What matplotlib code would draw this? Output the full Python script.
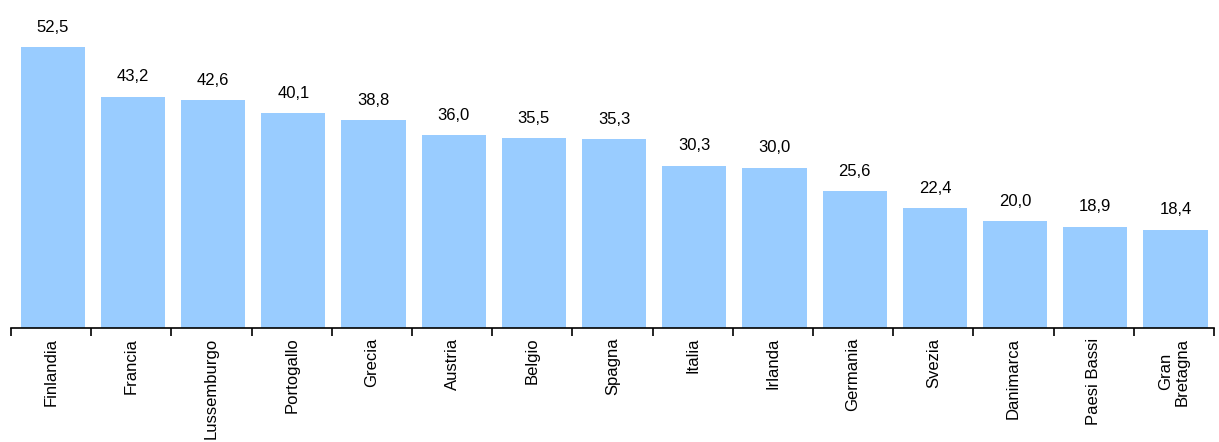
import numpy as np
import matplotlib
matplotlib.use("Agg")
import matplotlib.pyplot as plt

plt.rcParams["font.family"] = ["Liberation Sans", "DejaVu Sans"]

countries = ["Finlandia", "Francia", "Lussemburgo", "Portogallo", "Grecia", "Austria",
             "Belgio", "Spagna", "Italia", "Irlanda", "Germania", "Svezia",
             "Danimarca", "Paesi Bassi", "Gran\nBretagna"]
values = [52.5, 43.2, 42.6, 40.1, 38.8, 36.0, 35.5, 35.3, 30.3, 30.0, 25.6, 22.4,
          20.0, 18.9, 18.4]

BAR = "#99CCFF"

fig = plt.figure(figsize=(12.19, 4.42), dpi=100)
ax = fig.add_axes([11/1219, (442-328)/442, (1214-11)/1219, (328-7)/442])
x = np.arange(len(values))
ax.bar(x + 0.02, values, width=0.8, color=BAR, edgecolor="none")

for xi, v in zip(x, values):
    ax.annotate(f"{v:.1f}".replace(".", ","), (xi + 0.02, v), xytext=(0, 9),
                textcoords="offset points", ha="center", va="bottom", fontsize=12)

ax.set_xlim(-0.5, len(values) - 0.5)
ax.set_ylim(0, 60)
ax.set_yticks([])
for s in ["top", "right", "left"]:
    ax.spines[s].set_visible(False)
ax.spines["bottom"].set_linewidth(1.2)

ax.set_xticks(x)
ax.set_xticklabels(countries, rotation=90, fontsize=12, ha="center", va="top",
                   multialignment="center")
ax.tick_params(axis="x", which="major", length=0, pad=7)
ax.set_xticks(np.arange(len(values) + 1) - 0.5, minor=True)
ax.tick_params(axis="x", which="minor", length=6, width=1.2, direction="out")

fig.savefig("out.png", dpi=100, facecolor="white")
